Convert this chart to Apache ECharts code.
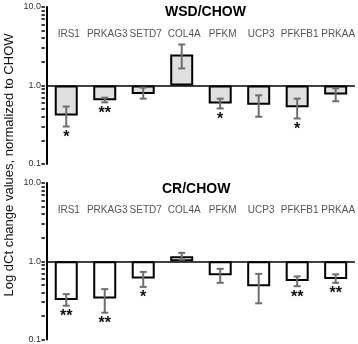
<!DOCTYPE html>
<html>
<head>
<meta charset="utf-8">
<script src="https://cdn.jsdelivr.net/npm/echarts@6/dist/echarts.min.js"></script>
<style>
  html, body { margin: 0; padding: 0; background: #fff; }
  #chart-container { width: 358px; height: 344px; }
</style>
</head>
<body>
<div id="chart-container"></div>
<script>
var genes = ['IRS1', 'PRKAG3', 'SETD7', 'COL4A', 'PFKM', 'UCP3', 'PFKFB1', 'PRKAA'];

// WSD/CHOW
var wsdValues = [0.415, 0.65, 0.78, 2.48, 0.59, 0.57, 0.53, 0.77];
var wsdLow = [0.30, 0.61, 0.68, 1.65, 0.51, 0.40, 0.38, 0.63];
var wsdHigh = [0.54, 0.70, 0.94, 3.33, 0.68, 0.75, 0.68, 0.92];
var wsdStars = ['*', '**', '', '', '*', '', '*', ''];

// CR/CHOW
var crValues = [0.32, 0.335, 0.60, 1.16, 0.66, 0.48, 0.56, 0.595];
var crLow = [0.27, 0.22, 0.47, 1.05, 0.53, 0.29, 0.48, 0.53];
var crHigh = [0.38, 0.44, 0.73, 1.28, 0.80, 0.69, 0.64, 0.68];
var crStars = ['**', '**', '*', '', '', '', '**', '**'];

var yTicks = [0.1, 0.2, 0.3, 0.4, 0.5, 0.6, 0.7, 0.8, 0.9, 1, 2, 3, 4, 5, 6, 7, 8, 9, 10];

var font = 'Liberation Sans, Arial, sans-serif';
var gridLeft = 47, gridRight = 1, chartWidth = 358;

var myChart = echarts.init(document.getElementById('chart-container'));

var makeErrData = function (low, high) {
    var out = [];
    for (var i = 0; i < low.length; i++) {
        out.push([i, low[i], high[i]]);
    }
    return out;
};

var makeErrRender = function (stars) {
    return function (params, api) {
        var i = api.value(0);
        var pLow = api.coord([i, api.value(1)]);
        var pHigh = api.coord([i, api.value(2)]);
        var x = pLow[0];
        var cap = 3.5;
        var st = { stroke: '#6e6e6e', lineWidth: 2 };
        var children = [
            { type: 'line', shape: { x1: x, y1: pLow[1], x2: x, y2: pHigh[1] }, style: st },
            { type: 'line', shape: { x1: x - cap, y1: pLow[1], x2: x + cap, y2: pLow[1] }, style: st },
            { type: 'line', shape: { x1: x - cap, y1: pHigh[1], x2: x + cap, y2: pHigh[1] }, style: st }
        ];
        var s = stars[params.dataIndex];
        if (s) {
            children.push({
                type: 'text',
                style: {
                    text: s, x: x, y: pLow[1] + 3,
                    fill: '#111', font: 'bold 16px ' + font,
                    align: 'center', verticalAlign: 'top'
                }
            });
        }
        return { type: 'group', children: children };
    };
};

var makeX = function (gridIndex) {
    return {
        type: 'category',
        gridIndex: gridIndex,
        data: genes,
        position: 'top',
        offset: -35,
        axisLine: { show: false },
        axisTick: { show: false },
        axisLabel: { color: '#555', fontSize: 10, fontFamily: font, margin: 3, padding: [0, 0, 0, 5], interval: 0 }
    };
};

var makeY = function (gridIndex) {
    return {
        type: 'log',
        logBase: 10,
        gridIndex: gridIndex,
        position: 'left',
        min: 0.1,
        max: 10,
        axisLine: { show: true, lineStyle: { color: '#000', width: 2 } },
        axisTick: { show: false },
        axisLabel: {
            color: '#333', fontSize: 9, fontFamily: font, margin: 6,
            formatter: function (v) { return Number(v).toFixed(1); }
        },
        splitLine: { show: false }
    };
};

// log minor ticks: a log10-unit value axis moved from the right edge onto the left axis line
var makeTickAxis = function (gridIndex) {
    return {
        type: 'value',
        gridIndex: gridIndex,
        position: 'right',
        offset: -(chartWidth - gridLeft - gridRight),
        min: -1,
        max: 1,
        axisLine: { show: false },
        axisLabel: { show: false },
        splitLine: { show: false },
        axisTick: {
            show: true, inside: true, length: 3.5,
            customValues: yTicks.map(function (v) { return Math.log10(v); }),
            lineStyle: { color: '#000', width: 1.5 }
        }
    };
};

var baseLine = {
    silent: true,
    symbol: 'none',
    label: { show: false },
    lineStyle: { color: '#000', width: 1.5, type: 'solid' },
    data: [{ yAxis: 1 }]
};

var option = {
    animation: false,
    title: [
        { text: 'WSD/CHOW', left: 160, top: 0, textStyle: { fontSize: 14, fontWeight: 'bold', color: '#000', fontFamily: font } },
        { text: 'CR/CHOW', left: 157, top: 177, textStyle: { fontSize: 14, fontWeight: 'bold', color: '#000', fontFamily: font } }
    ],
    grid: [
        { left: gridLeft, right: gridRight, top: 7, height: 157 },
        { left: gridLeft, right: gridRight, top: 183, height: 157 }
    ],
    xAxis: [makeX(0), makeX(1)],
    yAxis: [makeY(0), makeY(1), makeTickAxis(0), makeTickAxis(1)],
    graphic: [{
        type: 'text',
        x: 9, y: 165,
        rotation: Math.PI / 2,
        style: {
            text: 'Log dCt change values, normalized to CHOW',
            fill: '#111', font: '13px ' + font,
            align: 'center', verticalAlign: 'middle'
        }
    }],
    series: [
        {
            type: 'bar', xAxisIndex: 0, yAxisIndex: 0, data: wsdValues, barWidth: 23,
            itemStyle: { color: '#e0e0e0', borderColor: '#000', borderWidth: 2 },
            markLine: baseLine
        },
        {
            type: 'custom', xAxisIndex: 0, yAxisIndex: 0, data: makeErrData(wsdLow, wsdHigh),
            renderItem: makeErrRender(wsdStars), z: 5
        },
        {
            type: 'bar', xAxisIndex: 1, yAxisIndex: 1, data: crValues, barWidth: 23,
            itemStyle: { color: '#fff', borderColor: '#000', borderWidth: 2 },
            markLine: baseLine
        },
        {
            type: 'custom', xAxisIndex: 1, yAxisIndex: 1, data: makeErrData(crLow, crHigh),
            renderItem: makeErrRender(crStars), z: 5
        }
    ]
};

myChart.setOption(option);
</script>
</body>
</html>
